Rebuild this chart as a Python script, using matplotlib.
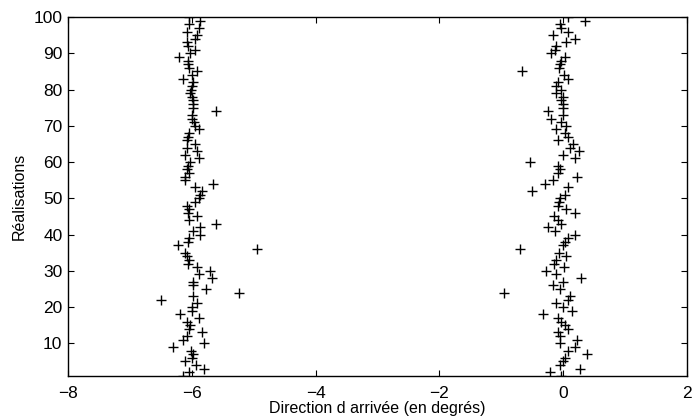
import numpy as np
import matplotlib
matplotlib.use("Agg")
import matplotlib.pyplot as plt

plt.rcParams['font.family'] = ['Liberation Sans', 'DejaVu Sans']

# realisation index (1..100)
realisations = list(range(1, 101))

# estimated direction, source near -6 degrees
doa_left = [
    -6.14, -6.04, -5.80, -5.93, -6.11, -5.99, -5.98, -6.02, -6.31, -5.80,
    -6.15, -6.08, -5.84, -6.04, -6.03, -6.08, -5.89, -6.19, -5.99, -6.00,
    -5.92, -6.49, -5.98, -5.23, -5.77, -5.98, -5.98, -5.68, -5.88, -5.71,
    -5.91, -6.06, -6.04, -6.08, -6.11, -4.95, -6.22, -6.06, -6.04, -5.87,
    -5.98, -5.86, -5.61, -6.04, -5.92, -6.06, -6.04, -6.08, -5.95, -5.88,
    -5.86, -5.84, -5.95, -5.65, -6.11, -6.11, -6.04, -6.08, -6.06, -6.03,
    -5.88, -6.11, -5.91, -6.08, -5.95, -6.07, -6.06, -6.04, -5.88, -5.95,
    -5.96, -5.99, -6.00, -5.61, -5.98, -5.98, -5.98, -5.99, -6.03, -6.02,
    -6.00, -5.98, -6.15, -6.00, -5.91, -6.04, -6.06, -6.06, -6.20, -6.03,
    -5.95, -6.06, -6.08, -5.95, -5.92, -6.08, -5.89, -6.04, -5.87, -6.04,
]

# estimated direction, source near 0 degrees
doa_right = [
    -0.03, -0.21, 0.27, -0.05, 0.00, 0.03, 0.38, 0.07, 0.19, -0.05,
    0.22, -0.05, -0.08, 0.07, 0.03, -0.03, -0.08, -0.32, 0.14, 0.00,
    -0.11, 0.07, 0.11, -0.96, -0.05, -0.17, -0.01, 0.28, -0.11, -0.27,
    0.01, -0.15, -0.12, 0.05, -0.06, -0.70, -0.01, 0.03, 0.08, 0.19,
    -0.13, -0.24, -0.03, -0.08, -0.15, 0.19, 0.05, -0.08, -0.06, -0.05,
    0.03, -0.51, 0.08, -0.29, -0.17, 0.22, -0.08, -0.05, -0.08, -0.54,
    0.19, 0.00, 0.25, 0.11, 0.16, -0.08, 0.08, 0.03, -0.12, 0.05,
    -0.03, -0.20, 0.00, -0.24, 0.00, -0.01, -0.03, -0.01, -0.12, -0.04,
    -0.11, -0.08, 0.07, 0.01, -0.66, -0.06, -0.05, -0.03, 0.03, -0.19,
    -0.13, -0.11, 0.05, 0.19, -0.17, 0.07, -0.03, -0.05, 0.35, 0.07,
]

x_ticks = [-8, -6, -4, -2, 0, 2]
y_ticks = [10, 20, 30, 40, 50, 60, 70, 80, 90, 100]

fig = plt.figure(figsize=(6.93, 4.20), dpi=100)
ax = fig.add_axes([68 / 693, 1 - 376 / 420, (687 - 68) / 693, (376 - 17) / 420])

ax.plot(doa_left, realisations, '+', color='black', markersize=7.5, markeredgewidth=1.0)
ax.plot(doa_right, realisations, '+', color='black', markersize=7.5, markeredgewidth=1.0)

ax.set_xlim(-8, 2)
ax.set_ylim(1, 100)
ax.set_xticks(x_ticks)
ax.set_yticks(y_ticks)
ax.tick_params(direction='in', top=True, right=True, length=4, width=0.8,
               labelsize=12.5)
ax.tick_params(axis='x', pad=7)
ax.tick_params(axis='y', pad=4)
for s in ax.spines.values():
    s.set_linewidth(1.0)
    s.set_color('black')

ax.set_xlabel("Direction d arrivée (en degrés)", fontsize=11.5, labelpad=0)
ax.set_ylabel("Réalisations", fontsize=11.5, labelpad=5)

fig.savefig("out.png", dpi=100)
